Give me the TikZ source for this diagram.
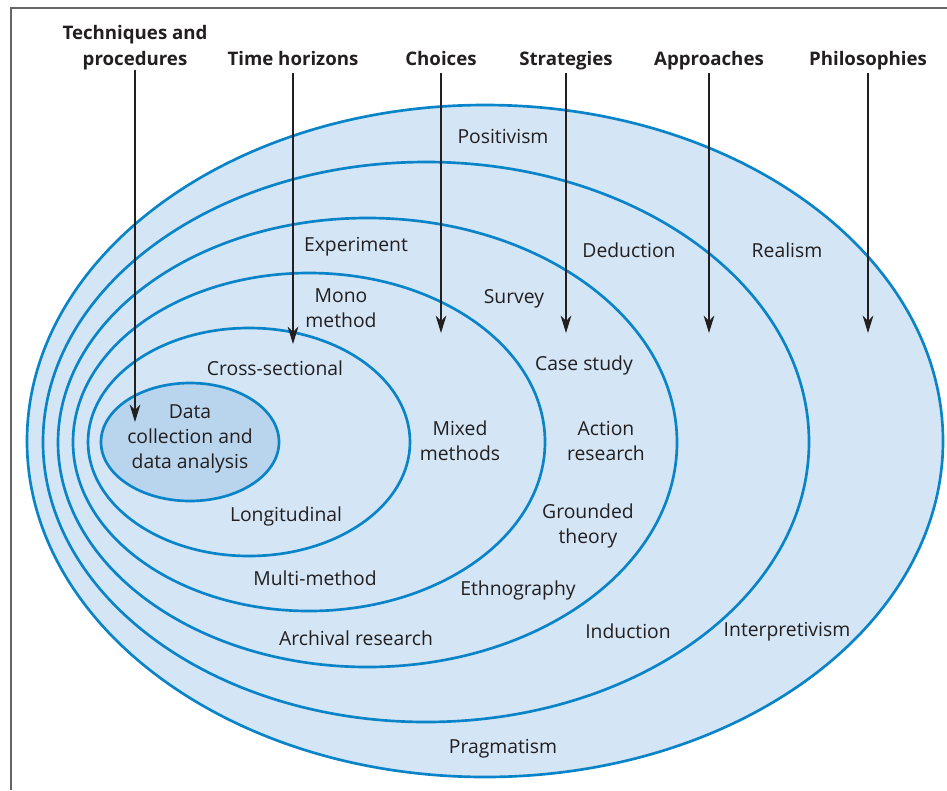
\documentclass[tikz,border=0pt]{standalone}
\usepackage{fontspec}
\setmainfont{Open Sans}
\usepackage{tikz}
\usetikzlibrary{arrows.meta}
\definecolor{ringfill}{HTML}{D4E5F5}
\definecolor{corefill}{HTML}{B9D5EE}
\definecolor{ringline}{HTML}{0A84C8}
\definecolor{ink}{HTML}{231F20}
\tikzset{>={Stealth[length=13pt,width=8pt,inset=4pt]},x=0.75pt,y=-0.75pt}
\tikzset{ring/.style={draw=ringline,line width=2pt}}
\tikzset{head/.style={font=\fontsize{14}{19.5}\selectfont\bfseries,text=ink,align=center,anchor=south,inner sep=0pt,text depth=5.25pt}}
\tikzset{lbl/.style={font=\fontsize{14.5}{18.75}\selectfont,text=ink,align=center,inner sep=0pt}}

\begin{document}
\begin{tikzpicture}
        \useasboundingbox (0,0) rectangle (947,790);
        \draw[gray!80!black,line width=1pt] (11,790) -- (11,8) -- (947,8);
        \fill[ringfill] (485,441) ellipse [x radius=458, y radius=336];
        \draw[ring] (485,441) ellipse [x radius=458, y radius=336];
        \draw[ring] (426,442) ellipse [x radius=383, y radius=280];
        \draw[ring] (367.5,442.5) ellipse [x radius=309.5, y radius=224.5];
        \draw[ring] (309,442) ellipse [x radius=236, y radius=169];
        \draw[ring] (249,442) ellipse [x radius=161, y radius=114];
        \filldraw[ring,fill=corefill] (190,442) ellipse [x radius=89, y radius=59];
        \node[lbl] (pos)   at (503,136) {Positivism};
        \node[lbl] (real)  at (787,250) {Realism};
        \node[lbl] (ded)   at (629,250) {Deduction};
        \node[lbl] (exp)   at (356,247) {Experiment};
        \node[lbl] (mono)  at (341,308) {Mono\\method};
        \node[lbl] (surv)  at (514,299) {Survey};
        \node[lbl] (case)  at (584,365) {Case study};
        \node[lbl] (cross) at (275,368) {Cross-sectional};
        \node[lbl] (data)  at (190,439) {Data\\collection and\\data analysis};
        \node[lbl] (mix)   at (460,441) {Mixed\\methods};
        \node[lbl] (act)   at (606,441) {Action\\research};
        \node[lbl] (grd)   at (588,526) {Grounded\\theory};
        \node[lbl] (long)  at (286,516) {Longitudinal};
        \node[lbl] (multi) at (315,578) {Multi-method};
        \node[lbl] (eth)   at (518,590) {Ethnography};
        \node[lbl] (arch)  at (356,638) {Archival research};
        \node[lbl] (ind)   at (628,631) {Induction};
        \node[lbl] (intp)  at (787,632) {Interpretivism};
        \node[lbl] (prag)  at (503,749) {Pragmatism};
        \node[head,text depth=] (tp) at (135,70) {Techniques and\\procedures};
        \node[head] (th) at (293,73) {Time horizons};
        \node[head] (ch) at (441,73) {Choices};
        \node[head] (st) at (566,73) {Strategies};
        \node[head] (ap) at (709,73) {Approaches};
        \node[head] (ph) at (868,73) {Philosophies};
        \coordinate (tp1) at (135,422);
        \coordinate (th1) at (293,344);
        \coordinate (ch1) at (441,333);
        \coordinate (st1) at (566,333);
        \coordinate (ap1) at (709,333);
        \coordinate (ph1) at (868,333);
        \path[->,ink,line width=0.8pt]
            (tp) edge (tp1)
            (th) edge (th1)
            (ch) edge (ch1)
            (st) edge (st1)
            (ap) edge (ap1)
            (ph) edge (ph1)
        ;
    \end{tikzpicture}
\end{document}
